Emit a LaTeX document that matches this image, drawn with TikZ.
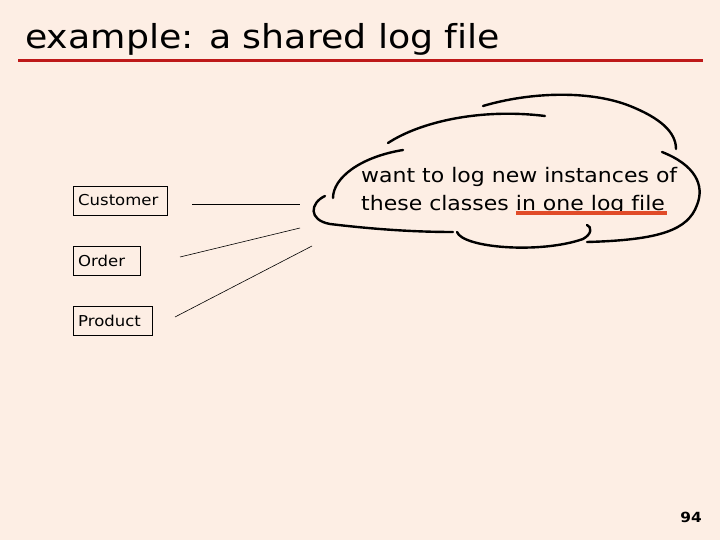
\documentclass[tikz,border=0pt]{standalone}
\usepackage{fontspec}
\setmainfont[Ligatures=NoCommon,FakeStretch=1.1]{DejaVu Sans}
\definecolor{bg}{RGB}{253,238,228}
\definecolor{titlered}{RGB}{190,25,25}
\definecolor{ulred}{RGB}{225,75,40}
\begin{document}
\begin{tikzpicture}[x=1pt,y=-1pt,
  classbox/.style={draw,line width=0.8pt,inner sep=0pt,minimum height=29pt,anchor=north west},
  classlabel/.style={anchor=west,inner sep=0pt,font=\fontsize{15}{15}\selectfont},
  conn/.style={line width=0.6pt},
  cloudarc/.style={line width=2.4pt,line cap=round}]
\fill[bg] (0,0) rectangle (720,540);
\useasboundingbox (0,0) rectangle (720,540);
% title
\node[anchor=base west,inner sep=0pt,font=\fontsize{33}{33}\selectfont] (title) at (25,49) {example: a shared log file};
\draw[titlered,line width=3pt] (18,61) coordinate (tl) -- (703,61) coordinate (tr);
% class boxes
\node[classbox,minimum width=94pt] (cust) at (73,186) {};
\node[classlabel] (custl) at (78,200.5) {Customer};
\node[classbox,minimum width=67pt] (ord) at (73,246) {};
\node[classlabel] (ordl) at (78,260.5) {Order};
\node[classbox,minimum width=79pt] (prod) at (73,306) {};
\node[classlabel] (prodl) at (78,320.5) {Product};
% connectors
\coordinate (c1a) at (192,204); \coordinate (c1b) at (300,204);
\coordinate (c2a) at (180,257); \coordinate (c2b) at (300,228);
\coordinate (c3a) at (175,317); \coordinate (c3b) at (312,246);
\draw[conn] (c1a) -- (c1b);
\draw[conn] (c2a) -- (c2b);
\draw[conn] (c3a) -- (c3b);
% cloud
\draw[cloudarc] (483,106) .. controls (530,92) and (590,90) .. (630,106) .. controls (660,118) and (676,132) .. (676,149);
\draw[cloudarc] (388,143) .. controls (420,122) and (480,108) .. (545,116);
\draw[cloudarc] (403,150) .. controls (360,157) and (333,178) .. (333,198);
\draw[cloudarc] (325,196) .. controls (310,203) and (308,220) .. (330,224) .. controls (380,230) and (420,232) .. (453,232);
\draw[cloudarc] (457,232) .. controls (463,248) and (540,254) .. (583,239) .. controls (592,234) and (592,227) .. (587,225);
\draw[cloudarc] (662,152) .. controls (695,165) and (705,185) .. (697,205) .. controls (688,230) and (660,240) .. (587,242);
% cloud text
\node[anchor=base west,inner sep=0pt,font=\fontsize{20}{20}\selectfont] (l1) at (361,183) {want to log new instances of};
\node[anchor=base west,inner sep=0pt,font=\fontsize{20}{20}\selectfont] (l2) at (361,211) {these classes in one log file};
\draw[ulred,line width=4pt] (516,213) coordinate (ua) -- (667,213) coordinate (ub);
% page number
\node[font=\fontsize{14}{14}\selectfont\bfseries,inner sep=0pt] (pg) at (691,517) {94};
\end{tikzpicture}
\end{document}
